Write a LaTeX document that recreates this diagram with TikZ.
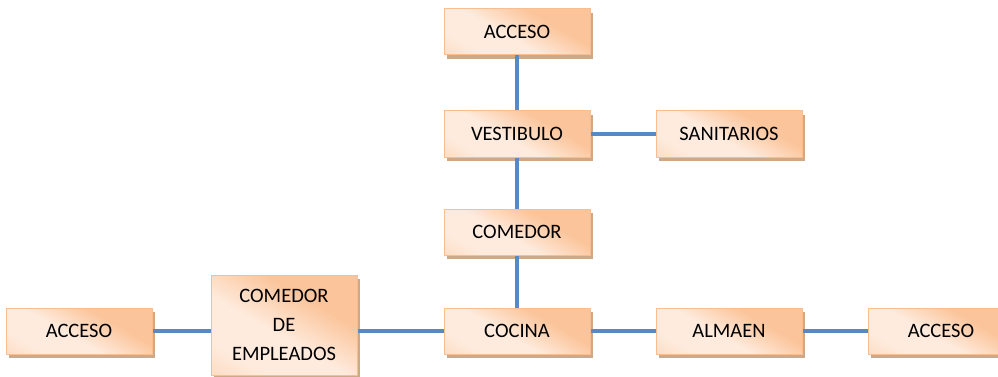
\documentclass[tikz,border=0pt]{standalone}
\usepackage{fontspec}
\setmainfont{Carlito}
\usepackage{tikz}
\usetikzlibrary{positioning,shadows,calc}
\definecolor{Peach}{HTML}{FBC49A}
\definecolor{PeachLt}{HTML}{FEEBDD}
\definecolor{PeachLine}{HTML}{F9BE90}
\definecolor{Tan}{HTML}{CFA888}
\definecolor{Link}{HTML}{5689C6}
\pgfdeclarehorizontalshading{peach}{100bp}{color(0bp)=(Peach); color(35bp)=(Peach); color(55bp)=(PeachLt); color(72bp)=(PeachLt); color(100bp)=(Peach!80!PeachLt)}

\begin{document}
\begin{tikzpicture}[font=\fontsize{20.5}{29}\selectfont,
    area/.style={draw=PeachLine,line width=1pt,shading=peach,shading angle=-120,
      minimum width=146pt,minimum height=46pt,align=center,inner sep=2pt,
      drop shadow={shadow xshift=3pt,shadow yshift=-4pt,fill=Tan,opacity=1}},
    link/.style={draw=Link,line width=4.5pt}]
  \useasboundingbox (0,0) rectangle (998pt,-377pt);
  \node[area] (acc1) at (517pt,-32pt) {ACCESO};
  \node[area,below=55pt of acc1] (vest){VESTIBULO};
  \node[area,right=65pt of vest] (sani){SANITARIOS};
  \node[area,below=51pt of vest] (com){COMEDOR};
  \node[area,below=52pt of com] (coc){COCINA};
  \node[area,right=65pt of coc] (alm){ALMAEN};
  \node[area,right=65pt of alm] (acc3){ACCESO};
  \node[area,minimum height=100pt,left=86pt of coc,yshift=6pt] (emp){COMEDOR\\DE\\EMPLEADOS};
  \node[area,left=58pt of emp,yshift=-6pt] (acc2){ACCESO};
  \draw[link] (acc1)--(vest); \draw[link] (vest)--(sani);
  \draw[link] (vest)--(com); \draw[link] (com)--(coc);
  \draw[link] (coc)--(alm); \draw[link] (alm)--(acc3);
  \draw[link] (coc)--(coc-|emp.east); \draw[link] (acc2)--(acc2-|emp.west);
\end{tikzpicture}
\end{document}
